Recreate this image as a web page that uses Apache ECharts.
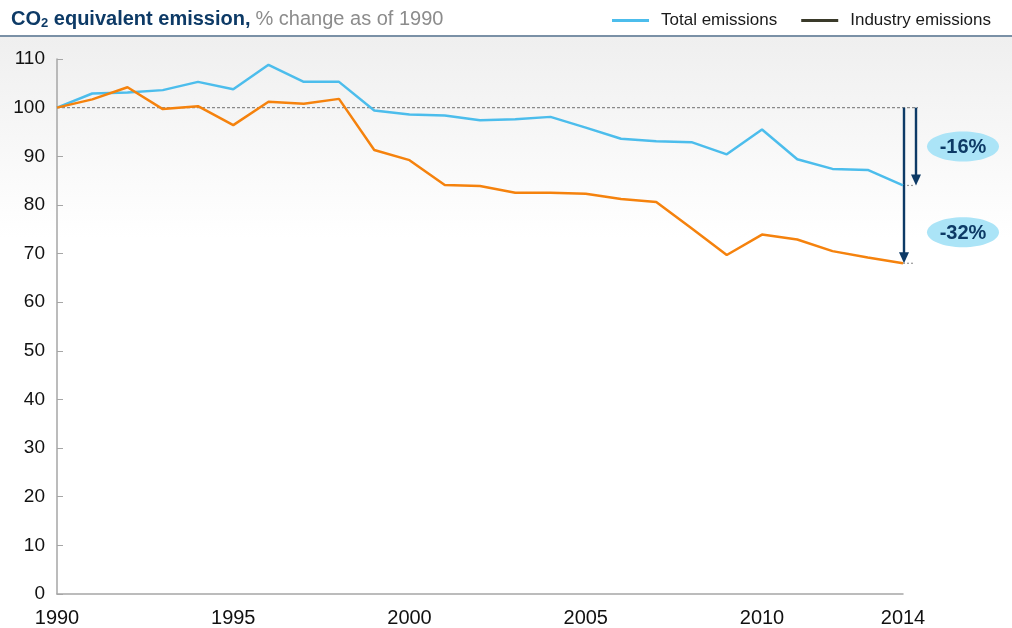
<!DOCTYPE html>
<html>
<head>
<meta charset="utf-8">
<script src="https://cdn.jsdelivr.net/npm/echarts@6/dist/echarts.min.js"></script>
<style>
  html, body { margin: 0; padding: 0; background: #ffffff; }
  #chart { width: 1012px; height: 628px; }
</style>
</head>
<body>
<div id="chart"></div>
<script>
// Emission indices, 1990 = 100
const years = [1990, 1991, 1992, 1993, 1994, 1995, 1996, 1997, 1998, 1999, 2000, 2001,
               2002, 2003, 2004, 2005, 2006, 2007, 2008, 2009, 2010, 2011, 2012, 2013, 2014];
const totalEmissions = [100, 102.9, 103.1, 103.6, 105.3, 103.8, 108.8, 105.3, 105.3, 99.4, 98.6, 98.4,
                        97.4, 97.6, 98.1, 95.9, 93.6, 93.1, 92.9, 90.4, 95.5, 89.4, 87.4, 87.2, 84];
const industryEmissions = [100, 101.7, 104.2, 99.7, 100.3, 96.4, 101.2, 100.8, 101.8, 91.3, 89.2, 84.1,
                           83.9, 82.5, 82.5, 82.3, 81.2, 80.6, 75.2, 69.7, 73.9, 72.9, 70.5, 69.2, 68];
const xTicks = [1990, 1995, 2000, 2005, 2010, 2014];
const baseValue = 100;
const changeEnds = [84, 68];
const changeLabels = ['-16%', '-32%'];

const FONT = '"Liberation Sans", Arial, sans-serif';
const NAVY = '#0d3a66';
const BLUE = '#4cbdec';
const ORANGE = '#f5820d';

const chart = echarts.init(document.getElementById('chart'), null, { renderer: 'canvas' });

const pairs = (vals) => years.map((y, i) => [y, vals[i]]);

// Arrows, leaders and percentage badges at the final year
function renderChange(params, api) {
  const i = params.dataIndex;
  const year = api.value(0);
  const end = api.value(1);
  const p0 = api.coord([year, baseValue]);
  const p1 = api.coord([year, end]);
  const arrowX = p0[0] + (i === 0 ? 13 : 1);
  const children = [];
  if (i === 0) {
    const start = api.coord([years[0], baseValue]);
    children.push({
      type: 'line', z2: 1,
      shape: { x1: start[0], y1: p0[1], x2: p0[0] + 15, y2: p0[1] },
      style: { stroke: '#8a8a8a', lineWidth: 1.2, lineDash: [3, 2] }
    });
  }
  children.push({
    type: 'line',
    shape: { x1: p1[0], y1: p1[1], x2: p1[0] + 12, y2: p1[1] },
    style: { stroke: '#9a9a9a', lineWidth: 1.2, lineDash: [2, 2] }
  });
  children.push({
    type: 'line', z2: 5,
    shape: { x1: arrowX, y1: p0[1], x2: arrowX, y2: p1[1] - 8 },
    style: { stroke: NAVY, lineWidth: 2.4 }
  });
  children.push({
    type: 'polygon', z2: 5,
    shape: { points: [[arrowX - 5, p1[1] - 11], [arrowX + 5, p1[1] - 11], [arrowX, p1[1]]] },
    style: { fill: NAVY }
  });
  const cx = p0[0] + 60;
  const cy = p1[1] - (i === 0 ? 39 : 31);
  children.push({
    type: 'ellipse', z2: 5,
    shape: { cx: cx, cy: cy, rx: 36, ry: 15 },
    style: { fill: '#abe4f7' }
  });
  children.push({
    type: 'text', z2: 6,
    x: cx, y: cy + 1,
    style: {
      text: changeLabels[i], fill: NAVY, font: 'bold 20px ' + FONT,
      align: 'center', verticalAlign: 'middle'
    }
  });
  return { type: 'group', children: children };
}

chart.setOption({
  backgroundColor: '#ffffff',
  animation: false,
  graphic: [
    {
      type: 'rect', z: -10, silent: true,
      shape: { x: 0, y: 37, width: 1012, height: 200 },
      style: {
        fill: new echarts.graphic.LinearGradient(0, 0, 0, 1, [
          { offset: 0, color: '#efefef' },
          { offset: 1, color: '#ffffff' }
        ])
      }
    },
    {
      type: 'rect', z: 10, silent: true,
      shape: { x: 0, y: 35, width: 1012, height: 2 },
      style: { fill: '#7a90a6' }
    }
  ],
  title: {
    left: 6, top: 4,
    text: '{b|CO}{s|2}{b| equivalent emission,} {g|% change as of 1990}',
    textStyle: {
      fontWeight: 'normal',
      rich: {
        b: { fontFamily: FONT, fontSize: 20, fontWeight: 'bold', color: NAVY },
        s: { fontFamily: FONT, fontSize: 13, fontWeight: 'bold', color: NAVY, verticalAlign: 'bottom', padding: [8, 0, 0, 0] },
        g: { fontFamily: FONT, fontSize: 20, fontWeight: 'normal', color: '#8c8c8c' }
      }
    }
  },
  legend: {
    right: 16, top: 7,
    icon: 'rect',
    itemWidth: 37, itemHeight: 3,
    itemGap: 24,
    textStyle: { fontFamily: FONT, fontSize: 17, color: '#1a1a1a', padding: [0, 0, 0, 7] },
    data: [
      { name: 'Total emissions', itemStyle: { color: BLUE } },
      { name: 'Industry emissions', itemStyle: { color: '#3a3a2a' } }
    ]
  },
  grid: { left: 57, right: 109, top: 59, bottom: 34, containLabel: false },
  xAxis: {
    type: 'value',
    min: 1990, max: 2014, interval: 5,
    axisLine: { show: true, lineStyle: { color: '#a6a6a6', width: 1.5 } },
    axisTick: { show: false },
    splitLine: { show: false },
    axisLabel: {
      fontFamily: FONT, fontSize: 20, color: '#111', margin: 14,
      formatter: (v) => xTicks.includes(v) ? String(v) : ''
    }
  },
  yAxis: {
    type: 'value',
    min: 0, max: 110, interval: 10,
    axisLine: { show: true, lineStyle: { color: '#a6a6a6', width: 1.5 } },
    axisTick: { show: true, inside: true, length: 6, lineStyle: { color: '#a6a6a6' } },
    splitLine: { show: false },
    axisLabel: { fontFamily: FONT, fontSize: 19, color: '#111', margin: 12 }
  },
  series: [
    {
      name: 'Annotations',
      type: 'custom',
      clip: false,
      silent: true,
      z: 1,
      encode: { x: 0, y: 1 },
      data: changeEnds.map((v) => [years[years.length - 1], v]),
      renderItem: renderChange
    },
    {
      name: 'Total emissions',
      type: 'line',
      z: 3,
      showSymbol: false,
      data: pairs(totalEmissions),
      lineStyle: { color: BLUE, width: 2.5 },
      itemStyle: { color: BLUE }
    },
    {
      name: 'Industry emissions',
      type: 'line',
      z: 3,
      showSymbol: false,
      data: pairs(industryEmissions),
      lineStyle: { color: ORANGE, width: 2.5 },
      itemStyle: { color: ORANGE }
    }
  ]
});
</script>
</body>
</html>
